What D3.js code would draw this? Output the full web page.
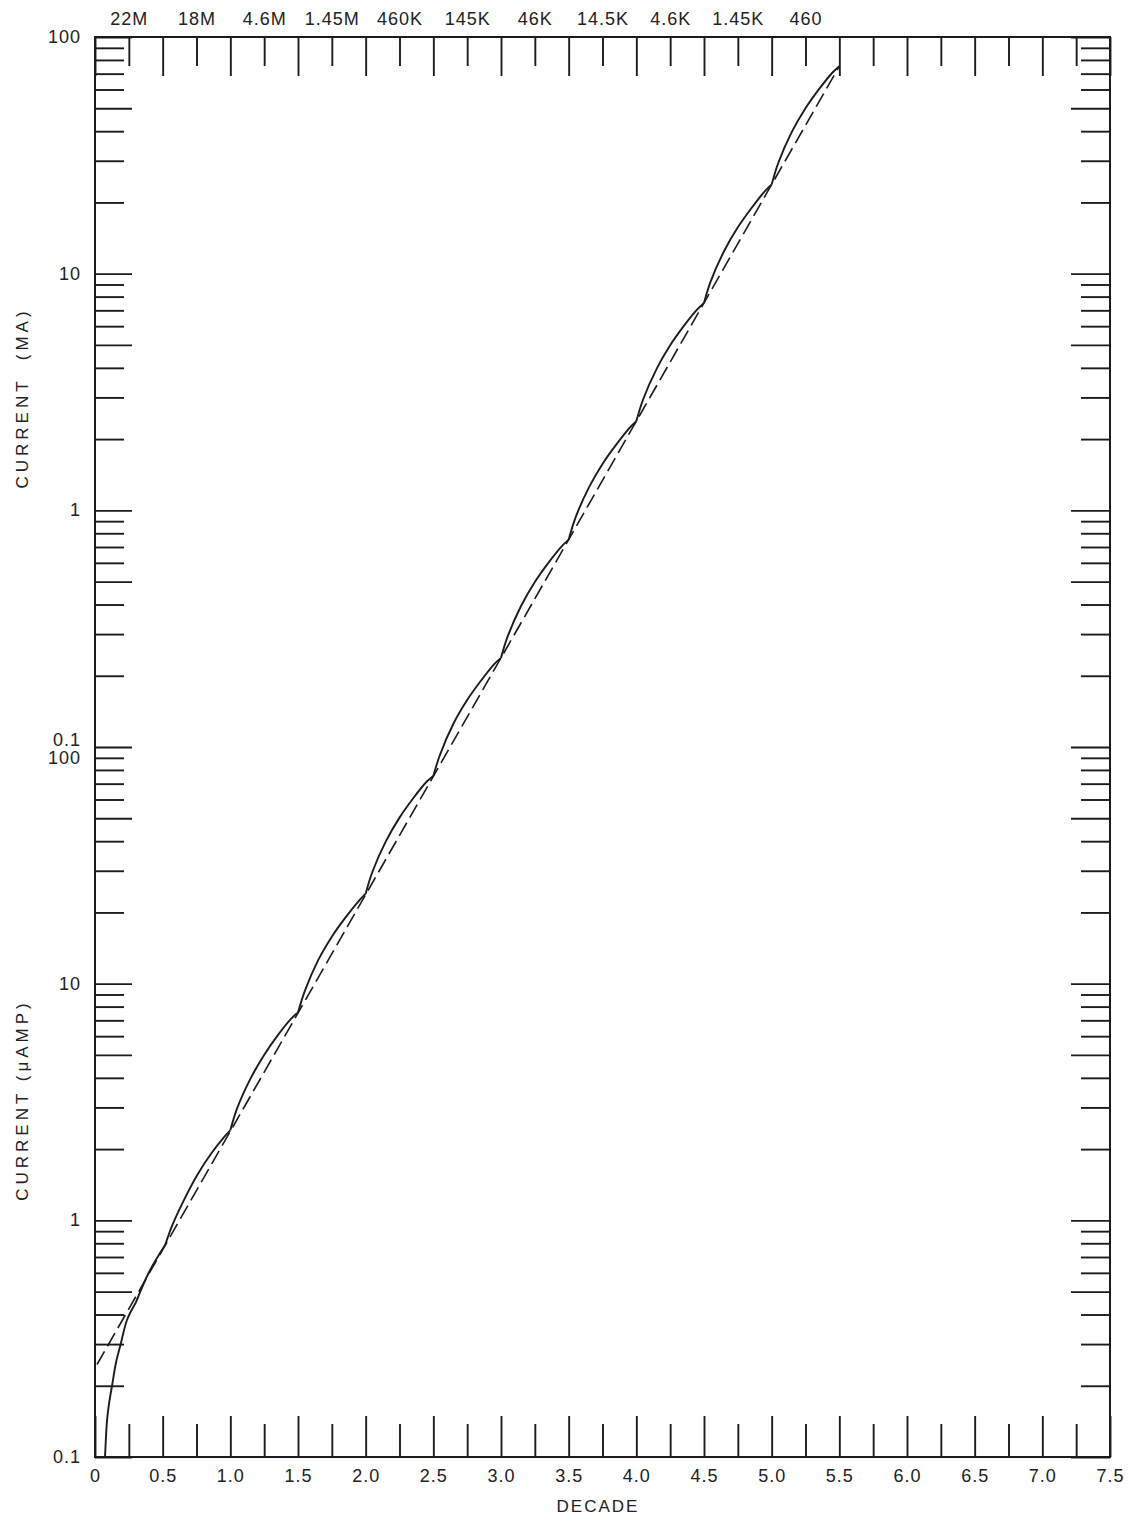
<!DOCTYPE html>
<html>
<head>
<meta charset="utf-8">
<script src="https://cdn.jsdelivr.net/npm/d3@7"></script>
<style>
    body { margin: 0; background: #fff; }
    svg text { font-family: "Liberation Sans", "DejaVu Sans", sans-serif; fill: #222; }
</style>
</head>
<body>
<div id="chart"></div>
<script>
// x axis: decade position
const xMajorTicks = [0, 0.5, 1.0, 1.5, 2.0, 2.5, 3.0, 3.5, 4.0, 4.5, 5.0, 5.5, 6.0, 6.5, 7.0, 7.5];
const xMajorLabels = ["0", "0.5", "1.0", "1.5", "2.0", "2.5", "3.0", "3.5", "4.0", "4.5", "5.0", "5.5", "6.0", "6.5", "7.0", "7.5"];
const xMinorTicks = [0.25, 0.75, 1.25, 1.75, 2.25, 2.75, 3.25, 3.75, 4.25, 4.75, 5.25, 5.75, 6.25, 6.75, 7.25];
// resistance labels along the top (on the quarter ticks)
const topLabels = ["22M", "18M", "4.6M", "1.45M", "460K", "145K", "46K", "14.5K", "4.6K", "1.45K", "460"];

// y axis: current in microamps, log scale
const yDecades = [0.1, 1, 10, 100, 1000, 10000];
const yMajorMult = [1, 5];
const yMinorMult = [2, 3, 4, 6, 7, 8, 9];
const yLabelValues = [100000, 10000, 1000, 100, 10, 1, 0.1];
const yLabelTexts = ["100", "10", "1", "0.1/100", "10", "1", "0.1"];

// dashed reference line (decade, microamps)
const dashX = [0.015, 5.5];
const dashI = [0.246, 75300];

const solidX = [0.074, 0.080, 0.089, 0.105, 0.126, 0.155, 0.19, 0.237, 0.30,
    0.40, 0.52,
    0.57, 0.67, 0.76, 0.86, 0.96, 1.0,
    1.05, 1.15, 1.25, 1.35, 1.45, 1.5,
    1.55, 1.65, 1.75, 1.85, 1.95, 2.0,
    2.05, 2.15, 2.25, 2.35, 2.45, 2.5,
    2.55, 2.65, 2.75, 2.85, 2.95, 3.0,
    3.05, 3.15, 3.25, 3.35, 3.45, 3.5,
    3.55, 3.65, 3.75, 3.85, 3.95, 4.0,
    4.05, 4.15, 4.25, 4.35, 4.45, 4.5,
    4.55, 4.65, 4.75, 4.85, 4.95, 5.0,
    5.05, 5.15, 5.25, 5.35, 5.45, 5.5];
const solidI = [0.1, 0.118, 0.143, 0.17, 0.2, 0.25, 0.3, 0.38, 0.447,
    0.605, 0.79,
    0.95, 1.26, 1.57, 1.92, 2.27, 2.40,
    2.97, 3.98, 5.0, 6.05, 7.12, 7.55,
    9.3, 12.6, 15.8, 19.0, 22.4, 24.0,
    29.7, 40.0, 50.3, 60.6, 71.3, 75.5,
    93, 126, 158, 190, 224, 238,
    294, 396, 498, 600, 706, 752,
    930, 1250, 1570, 1890, 2230, 2380,
    2940, 3960, 4980, 6000, 7060, 7520,
    9300, 12500, 15700, 18900, 22300, 23800,
    29500, 39800, 50000, 60200, 70800, 75300];
// points where the solid curve has a corner
const cuspX = [0.30, 0.52, 1.0, 1.5, 2.0, 2.5, 3.0, 3.5, 4.0, 4.5, 5.0];

const width = 1128, height = 1521;
const plot = {left: 95, right: 1110, top: 37, bottom: 1457};

const svg = d3.select("#chart").append("svg")
    .attr("width", width)
    .attr("height", height);

const x = d3.scaleLinear().domain([0, 7.5]).range([plot.left, plot.right]);
const y = d3.scaleLog().domain([0.1, 100000]).range([plot.bottom, plot.top]);

let yMajor = [], yMinor = [];
yDecades.forEach(function (d) {
    yMajorMult.forEach(function (m) { yMajor.push(d * m); });
    yMinorMult.forEach(function (m) { yMinor.push(d * m); });
});
yMajor.push(100000);

function styleAxis(g, fontSize) {
    g.select(".domain").remove();
    g.selectAll(".tick line").attr("stroke", "#1c1c1c").attr("stroke-width", 1.9);
    g.selectAll(".tick text").attr("font-size", fontSize).attr("letter-spacing", 1).attr("fill", "#222");
}

// bottom ticks, pointing up into the plot
svg.append("g")
    .attr("transform", "translate(0," + plot.bottom + ")")
    .call(d3.axisBottom(x).tickValues(xMajorTicks).tickSize(-41).tickPadding(12)
        .tickFormat(function (d, i) { return xMajorLabels[i]; }))
    .call(styleAxis, 18);
svg.append("g")
    .attr("transform", "translate(0," + plot.bottom + ")")
    .call(d3.axisBottom(x).tickValues(xMinorTicks).tickSize(-33).tickFormat(""))
    .call(styleAxis, 18);

// top ticks, hanging down
svg.append("g")
    .attr("transform", "translate(0," + plot.top + ")")
    .call(d3.axisTop(x).tickValues(xMajorTicks).tickSize(-39).tickFormat(""))
    .call(styleAxis, 18);
svg.append("g")
    .attr("transform", "translate(0," + plot.top + ")")
    .call(d3.axisTop(x).tickValues(xMinorTicks).tickSize(-29).tickPadding(12)
        .tickFormat(function (d, i) { return topLabels[i] || ""; }))
    .call(styleAxis, 18);

// left and right log ticks
svg.append("g")
    .attr("transform", "translate(" + plot.left + ",0)")
    .call(d3.axisLeft(y).tickValues(yMajor).tickSize(-37).tickFormat(""))
    .call(styleAxis, 18);
svg.append("g")
    .attr("transform", "translate(" + plot.left + ",0)")
    .call(d3.axisLeft(y).tickValues(yMinor).tickSize(-29).tickFormat(""))
    .call(styleAxis, 18);
svg.append("g")
    .attr("transform", "translate(" + plot.right + ",0)")
    .call(d3.axisRight(y).tickValues(yMajor).tickSize(-39).tickFormat(""))
    .call(styleAxis, 18);
svg.append("g")
    .attr("transform", "translate(" + plot.right + ",0)")
    .call(d3.axisRight(y).tickValues(yMinor).tickSize(-29).tickFormat(""))
    .call(styleAxis, 18);

// frame
svg.append("rect")
    .attr("x", plot.left).attr("y", plot.top)
    .attr("width", plot.right - plot.left).attr("height", plot.bottom - plot.top)
    .attr("fill", "none").attr("stroke", "#1c1c1c").attr("stroke-width", 2);

// y labels (0.1 mA and 100 uA share a line)
yLabelValues.forEach(function (v, i) {
    let parts = yLabelTexts[i].split("/");
    let t = svg.append("text")
        .attr("text-anchor", "end")
        .attr("font-size", 18)
        .attr("letter-spacing", 1);
    if (parts.length === 1) {
        t.attr("x", 81).attr("y", y(v) + 6).text(parts[0]);
    } else {
        t.append("tspan").attr("x", 81).attr("y", y(v) - 1).text(parts[0]);
        t.append("tspan").attr("x", 81).attr("y", y(v) + 17).text(parts[1]);
    }
});

// axis titles
svg.append("text")
    .attr("transform", "translate(28,398) rotate(-90)")
    .attr("text-anchor", "middle")
    .attr("font-size", 17)
    .attr("letter-spacing", 4)
    .attr("xml:space", "preserve")
    .text("CURRENT  (MA)");
svg.append("text")
    .attr("transform", "translate(28,1100) rotate(-90)")
    .attr("text-anchor", "middle")
    .attr("font-size", 17)
    .attr("letter-spacing", 4)
    .text("CURRENT (\u03bcAMP)");
svg.append("text")
    .attr("x", 598).attr("y", 1512)
    .attr("text-anchor", "middle")
    .attr("font-size", 17)
    .attr("letter-spacing", 2)
    .text("DECADE");

// dashed line
let dashData = dashX.map(function (d, i) { return [d, dashI[i]]; });
svg.append("path")
    .datum(dashData)
    .attr("fill", "none")
    .attr("stroke", "#1c1c1c")
    .attr("stroke-width", 1.6)
    .attr("stroke-dasharray", "15,6")
    .attr("d", d3.line().x(function (d) { return x(d[0]); }).y(function (d) { return y(d[1]); }));

// solid curve, drawn piece by piece so the corners stay sharp
let solidData = solidX.map(function (d, i) { return [d, solidI[i]]; });
let pieces = [], current = [];
solidData.forEach(function (p) {
    current.push(p);
    if (cuspX.indexOf(p[0]) >= 0) {
        pieces.push(current);
        current = [p];
    }
});
if (current.length > 1) pieces.push(current);

let line = d3.line()
    .x(function (d) { return x(d[0]); })
    .y(function (d) { return y(d[1]); })
    .curve(d3.curveCatmullRom.alpha(0.5));

svg.selectAll(".solid")
    .data(pieces)
    .enter()
    .append("path")
    .attr("class", "solid")
    .attr("fill", "none")
    .attr("stroke", "#1c1c1c")
    .attr("stroke-width", 1.9)
    .attr("d", line);
</script>
</body>
</html>
